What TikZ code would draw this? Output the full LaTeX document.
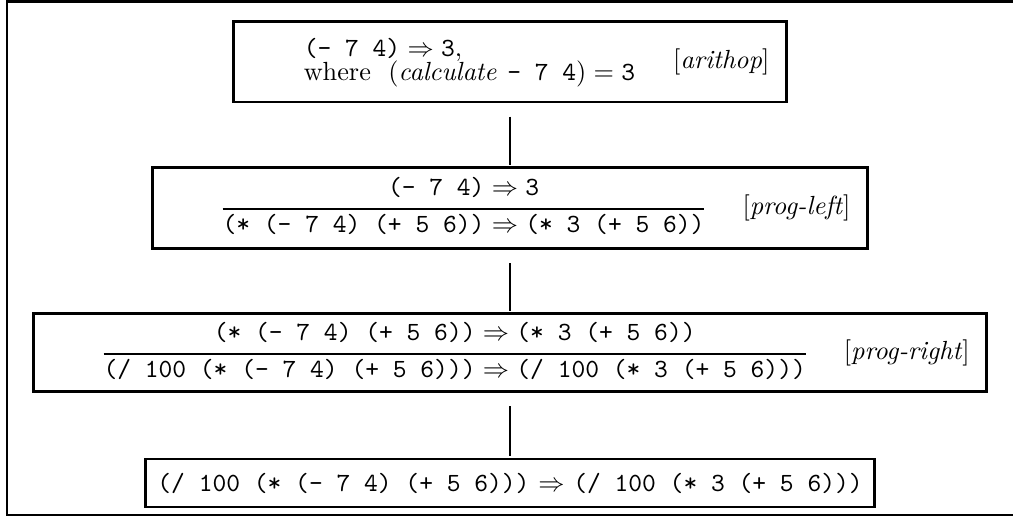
\documentclass[tikz,border=0pt]{standalone}
\usepackage{amsmath}
\usepackage{tikz}
\usetikzlibrary{positioning}
\setlength{\arrayrulewidth}{0.9pt}
\newcommand{\rulelabel}[1]{[\textit{#1}]}

\begin{document}
\begin{tikzpicture}[node distance=23.8pt,
  rbox/.style={draw,line width=1.1pt,inner xsep=6.5pt,inner ysep=0pt,minimum height=30.5pt},
  cbox/.style={draw,line width=1.1pt,inner xsep=4.5pt,inner ysep=0pt,minimum height=18.3pt},
  link/.style={line width=1.1pt,shorten <=5pt,shorten >=0.5pt}]
  \useasboundingbox (0,0) rectangle (385.9pt,-196.95pt);
  % outer frame, open on the right
  \draw[line width=1pt] (385.9pt,-0.5pt) -- (2.67pt,-0.5pt) -- (2.67pt,-196.2pt) -- (385.9pt,-196.2pt);
  \node[rbox] (b1) at (194.3pt,-23.6pt) {\hspace*{20.2pt}\begin{tabular}{@{}l@{}}
      $\texttt{(- 7 4)}\Rightarrow\texttt{3}$,\\[-3pt]
      where\ \ $(\mathit{calculate}\ \texttt{- 7 4}) = \texttt{3}$
    \end{tabular}\hspace{14.5pt}\rulelabel{arithop}};
  \node[rbox,minimum height=30.9pt] (b2) [below=of b1] {\hspace*{20.2pt}\begin{tabular}{@{}c@{}}
      $\texttt{(- 7 4)}\Rightarrow\texttt{3}$\\[1pt]\hline
      $\texttt{(* (- 7 4) (+ 5 6))}\Rightarrow\texttt{(* 3 (+ 5 6))}$
    \end{tabular}\hspace{14.5pt}\rulelabel{prog-left}};
  \node[rbox,minimum height=29.7pt] (b3) [below=of b2] {\hspace*{20.2pt}\begin{tabular}{@{}c@{}}
      $\texttt{(* (- 7 4) (+ 5 6))}\Rightarrow\texttt{(* 3 (+ 5 6))}$\\[1pt]\hline
      $\texttt{(/ 100 (* (- 7 4) (+ 5 6)))}\Rightarrow\texttt{(/ 100 (* 3 (+ 5 6)))}$
    \end{tabular}\hspace{14.5pt}\rulelabel{prog-right}};
  \node[cbox] (b4) [below=24.5pt of b3] {\texttt{(/ 100 (* (- 7 4) (+ 5 6)))} $\Rightarrow$ \texttt{(/ 100 (* 3 (+ 5 6)))}};
  \draw[link] (b1) -- (b2);
  \draw[link] (b2) -- (b3);
  \draw[link] (b3) -- (b4);
\end{tikzpicture}
\end{document}
